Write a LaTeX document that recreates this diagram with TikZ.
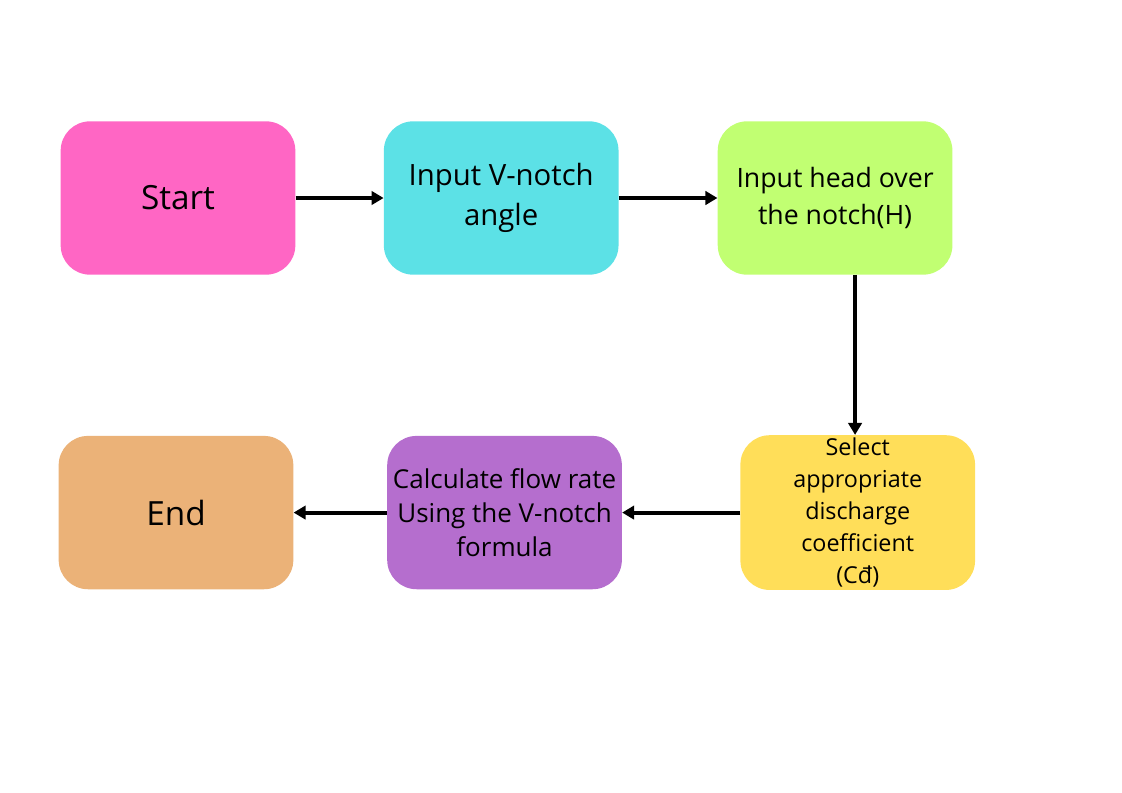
\documentclass[tikz,border=0pt]{standalone}
\usepackage{fontspec}
\setmainfont{Open Sans}
\usetikzlibrary{arrows.meta, positioning}
\definecolor{startPink}{RGB}{255, 102, 196}
\definecolor{inputCyan}{RGB}{92, 225, 230}
\definecolor{headLime}{RGB}{193, 255, 114}
\definecolor{coeffYellow}{RGB}{255, 222, 89}
\definecolor{calcPurple}{RGB}{181, 110, 206}
\definecolor{endOrange}{RGB}{235, 178, 120}
\tikzset{
    % Base style for all blocks
    block/.style={
        rectangle,
        rounded corners=22pt,
        minimum width=176pt,
        minimum height=115pt,
        align=center,
        inner sep=2pt,
        draw=none
    },
    % Specific styles
    startStage/.style={block, fill=startPink, font=\fontsize{25}{30}\selectfont},
    angleStage/.style={block, fill=inputCyan, font=\fontsize{22}{30}\selectfont},
    headStage/.style={block, fill=headLime, font=\fontsize{20}{28}\selectfont},
    coeffStage/.style={block, fill=coeffYellow, font=\fontsize{17.5}{24}\selectfont},
    calcStage/.style={block, fill=calcPurple, font=\fontsize{19.5}{25.5}\selectfont},
    endStage/.style={block, fill=endOrange, font=\fontsize{25}{30}\selectfont},
    % Arrow style
    arrow/.style={-{Triangle[length=9pt, width=10pt]}, line width=3pt, draw=black}
}

\begin{document}
\begin{tikzpicture}

    \useasboundingbox (0pt,0pt) rectangle (841.5pt,-594.75pt);

    % --- TOP ROW (Inputs) ---

    % 1. Start
    \node (start) [startStage] at (133.5pt,-148.5pt) {Start};

    % 2. Angle input
    \node (angle) [angleStage, right=66pt of start] {Input V-notch\\angle};

    % 3. Head input
    \node (head) [headStage, right=74pt of angle] {Input head over\\the notch(H)};

    % --- BOTTOM ROW (Calculation) ---

    % 4. Discharge coefficient
    \node (coeff) [coeffStage, below=120pt of head, xshift=17pt] {Select\\appropriate\\discharge\\coefficient\\(Cđ)};

    % 5. Flow rate
    \node (calc) [calcStage, left=88.5pt of coeff] {Calculate flow rate\\Using the V-notch\\formula};

    % 6. End
    \node (finish) [endStage, left=70pt of calc] {End};

    % --- Arrows ---
    \coordinate (drop) at ([xshift=15pt]head.south);
    \draw [arrow] (start) -- (angle);
    \draw [arrow] (angle) -- (head);
    \draw [arrow] (drop) -- (drop |- coeff.north); % down to the bottom row
    \draw [arrow] (coeff) -- (calc);
    \draw [arrow] (calc) -- (finish);

\end{tikzpicture}
\end{document}
